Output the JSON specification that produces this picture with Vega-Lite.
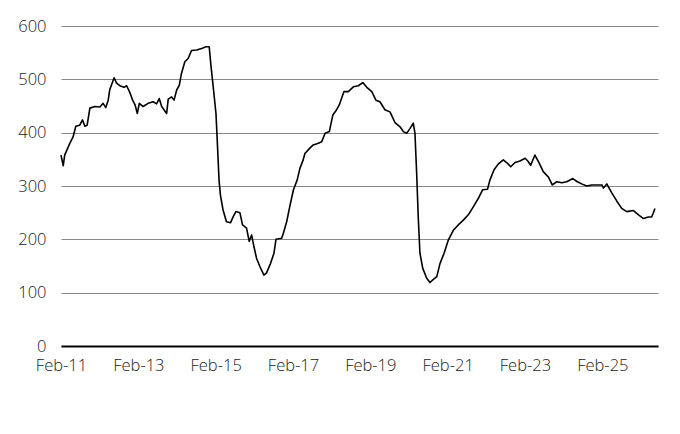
{
  "$schema": "https://vega.github.io/schema/vega-lite/v6.json",
  "autosize": {"type": "none"},
  "width": 597,
  "height": 320,
  "padding": {"left": 61, "top": 26, "right": 22, "bottom": 88},
  "background": "white",
  "data": {
    "values": [
      {"date": "2011-02-01", "value": 358},
      {"date": "2011-02-22", "value": 338},
      {"date": "2011-03-08", "value": 358},
      {"date": "2011-04-25", "value": 380},
      {"date": "2011-05-26", "value": 392},
      {"date": "2011-06-21", "value": 412},
      {"date": "2011-07-28", "value": 414},
      {"date": "2011-08-23", "value": 424},
      {"date": "2011-09-14", "value": 412},
      {"date": "2011-10-06", "value": 414},
      {"date": "2011-11-01", "value": 446},
      {"date": "2011-12-18", "value": 449},
      {"date": "2012-02-04", "value": 448},
      {"date": "2012-03-05", "value": 455},
      {"date": "2012-03-30", "value": 447},
      {"date": "2012-04-22", "value": 461},
      {"date": "2012-05-07", "value": 481},
      {"date": "2012-06-17", "value": 503},
      {"date": "2012-07-10", "value": 493},
      {"date": "2012-08-10", "value": 488},
      {"date": "2012-09-18", "value": 485},
      {"date": "2012-10-13", "value": 488},
      {"date": "2012-11-13", "value": 475},
      {"date": "2012-12-09", "value": 461},
      {"date": "2013-01-01", "value": 452},
      {"date": "2013-01-22", "value": 436},
      {"date": "2013-02-10", "value": 455},
      {"date": "2013-03-18", "value": 449},
      {"date": "2013-05-04", "value": 455},
      {"date": "2013-06-21", "value": 458},
      {"date": "2013-07-23", "value": 454},
      {"date": "2013-08-17", "value": 464},
      {"date": "2013-09-09", "value": 449},
      {"date": "2013-10-26", "value": 436},
      {"date": "2013-11-10", "value": 463},
      {"date": "2013-12-12", "value": 467},
      {"date": "2014-01-04", "value": 461},
      {"date": "2014-01-29", "value": 480},
      {"date": "2014-02-23", "value": 489},
      {"date": "2014-03-15", "value": 511},
      {"date": "2014-04-16", "value": 533},
      {"date": "2014-05-17", "value": 539},
      {"date": "2014-06-18", "value": 554},
      {"date": "2014-08-05", "value": 555},
      {"date": "2014-09-22", "value": 558},
      {"date": "2014-11-01", "value": 561},
      {"date": "2014-12-02", "value": 561},
      {"date": "2014-12-18", "value": 527},
      {"date": "2015-01-09", "value": 486},
      {"date": "2015-02-04", "value": 436},
      {"date": "2015-02-16", "value": 386},
      {"date": "2015-03-05", "value": 311},
      {"date": "2015-03-18", "value": 283},
      {"date": "2015-04-12", "value": 255},
      {"date": "2015-05-14", "value": 233},
      {"date": "2015-06-21", "value": 231},
      {"date": "2015-07-16", "value": 242},
      {"date": "2015-08-11", "value": 252},
      {"date": "2015-09-18", "value": 250},
      {"date": "2015-10-13", "value": 227},
      {"date": "2015-11-20", "value": 221},
      {"date": "2015-12-15", "value": 196},
      {"date": "2016-01-07", "value": 208},
      {"date": "2016-01-29", "value": 186},
      {"date": "2016-02-23", "value": 164},
      {"date": "2016-03-25", "value": 149},
      {"date": "2016-05-02", "value": 133},
      {"date": "2016-05-27", "value": 137},
      {"date": "2016-07-04", "value": 155},
      {"date": "2016-08-05", "value": 174},
      {"date": "2016-08-24", "value": 200},
      {"date": "2016-10-17", "value": 202},
      {"date": "2016-11-01", "value": 211},
      {"date": "2016-12-03", "value": 233},
      {"date": "2017-01-04", "value": 264},
      {"date": "2017-02-05", "value": 293},
      {"date": "2017-03-12", "value": 311},
      {"date": "2017-04-07", "value": 333},
      {"date": "2017-05-08", "value": 349},
      {"date": "2017-05-24", "value": 361},
      {"date": "2017-07-10", "value": 371},
      {"date": "2017-08-11", "value": 377},
      {"date": "2017-09-28", "value": 380},
      {"date": "2017-10-30", "value": 383},
      {"date": "2017-12-01", "value": 399},
      {"date": "2018-01-10", "value": 402},
      {"date": "2018-02-12", "value": 433},
      {"date": "2018-03-20", "value": 443},
      {"date": "2018-04-14", "value": 452},
      {"date": "2018-05-28", "value": 477},
      {"date": "2018-07-08", "value": 477},
      {"date": "2018-08-25", "value": 486},
      {"date": "2018-10-11", "value": 488},
      {"date": "2018-11-22", "value": 494},
      {"date": "2018-12-30", "value": 485},
      {"date": "2019-02-15", "value": 477},
      {"date": "2019-03-26", "value": 461},
      {"date": "2019-05-03", "value": 458},
      {"date": "2019-06-19", "value": 443},
      {"date": "2019-08-06", "value": 439},
      {"date": "2019-09-22", "value": 419},
      {"date": "2019-11-09", "value": 411},
      {"date": "2019-12-10", "value": 402},
      {"date": "2020-01-11", "value": 399},
      {"date": "2020-02-12", "value": 408},
      {"date": "2020-03-13", "value": 418},
      {"date": "2020-03-29", "value": 399},
      {"date": "2020-04-14", "value": 324},
      {"date": "2020-04-29", "value": 242},
      {"date": "2020-05-15", "value": 174},
      {"date": "2020-06-10", "value": 146},
      {"date": "2020-07-18", "value": 127},
      {"date": "2020-08-18", "value": 119},
      {"date": "2020-09-19", "value": 125},
      {"date": "2020-10-21", "value": 130},
      {"date": "2020-11-21", "value": 155},
      {"date": "2020-12-29", "value": 174},
      {"date": "2021-02-08", "value": 199},
      {"date": "2021-03-26", "value": 217},
      {"date": "2021-05-12", "value": 227},
      {"date": "2021-06-29", "value": 236},
      {"date": "2021-08-15", "value": 246},
      {"date": "2021-10-01", "value": 261},
      {"date": "2021-11-18", "value": 277},
      {"date": "2021-12-29", "value": 293},
      {"date": "2022-02-12", "value": 294},
      {"date": "2022-03-07", "value": 311},
      {"date": "2022-04-14", "value": 330},
      {"date": "2022-05-24", "value": 341},
      {"date": "2022-07-11", "value": 349},
      {"date": "2022-08-12", "value": 344},
      {"date": "2022-09-20", "value": 336},
      {"date": "2022-10-30", "value": 344},
      {"date": "2022-12-16", "value": 347},
      {"date": "2023-02-03", "value": 352},
      {"date": "2023-03-04", "value": 346},
      {"date": "2023-03-27", "value": 339},
      {"date": "2023-05-06", "value": 358},
      {"date": "2023-06-16", "value": 343},
      {"date": "2023-07-24", "value": 327},
      {"date": "2023-09-10", "value": 317},
      {"date": "2023-10-17", "value": 302},
      {"date": "2023-11-28", "value": 308},
      {"date": "2024-01-15", "value": 306},
      {"date": "2024-03-02", "value": 308},
      {"date": "2024-04-28", "value": 314},
      {"date": "2024-06-10", "value": 308},
      {"date": "2024-07-21", "value": 304},
      {"date": "2024-09-07", "value": 300},
      {"date": "2024-10-24", "value": 302},
      {"date": "2024-12-11", "value": 302},
      {"date": "2025-01-28", "value": 302},
      {"date": "2025-02-12", "value": 296},
      {"date": "2025-03-15", "value": 304},
      {"date": "2025-05-01", "value": 287},
      {"date": "2025-06-17", "value": 272},
      {"date": "2025-08-03", "value": 258},
      {"date": "2025-09-20", "value": 252},
      {"date": "2025-11-22", "value": 254},
      {"date": "2026-01-09", "value": 246},
      {"date": "2026-02-25", "value": 239},
      {"date": "2026-04-12", "value": 242},
      {"date": "2026-05-13", "value": 242},
      {"date": "2026-05-28", "value": 249},
      {"date": "2026-06-13", "value": 258}
    ]
  },
  "mark": {"type": "line", "color": "black", "strokeWidth": 1.6, "strokeJoin": "round"},
  "encoding": {
    "x": {
      "field": "date",
      "type": "temporal",
      "title": null,
      "scale": {"domain": ["2011-02-01", "2026-07-12"]},
      "axis": {
        "values": ["2011-02-01", "2013-02-01", "2015-02-01", "2017-02-01", "2019-02-01", "2021-02-01", "2023-02-01", "2025-02-01"],
        "format": "%b-%y",
        "grid": false,
        "ticks": false,
        "domainColor": "black",
        "domainWidth": 2,
        "labelPadding": 11,
        "labelFlush": false
      }
    },
    "y": {
      "field": "value",
      "type": "quantitative",
      "title": null,
      "scale": {"domain": [0, 600], "nice": false},
      "axis": {
        "values": [0, 100, 200, 300, 400, 500, 600],
        "domain": false,
        "ticks": false,
        "grid": true,
        "gridColor": "#8a8a8a",
        "gridWidth": 1,
        "labelPadding": 15
      }
    }
  },
  "config": {
    "view": {"stroke": null},
    "axis": {
      "labelFont": "Open Sans",
      "labelFontSize": 16.5,
      "labelFontWeight": 300,
      "labelColor": "#1a1a1a"
    }
  }
}
